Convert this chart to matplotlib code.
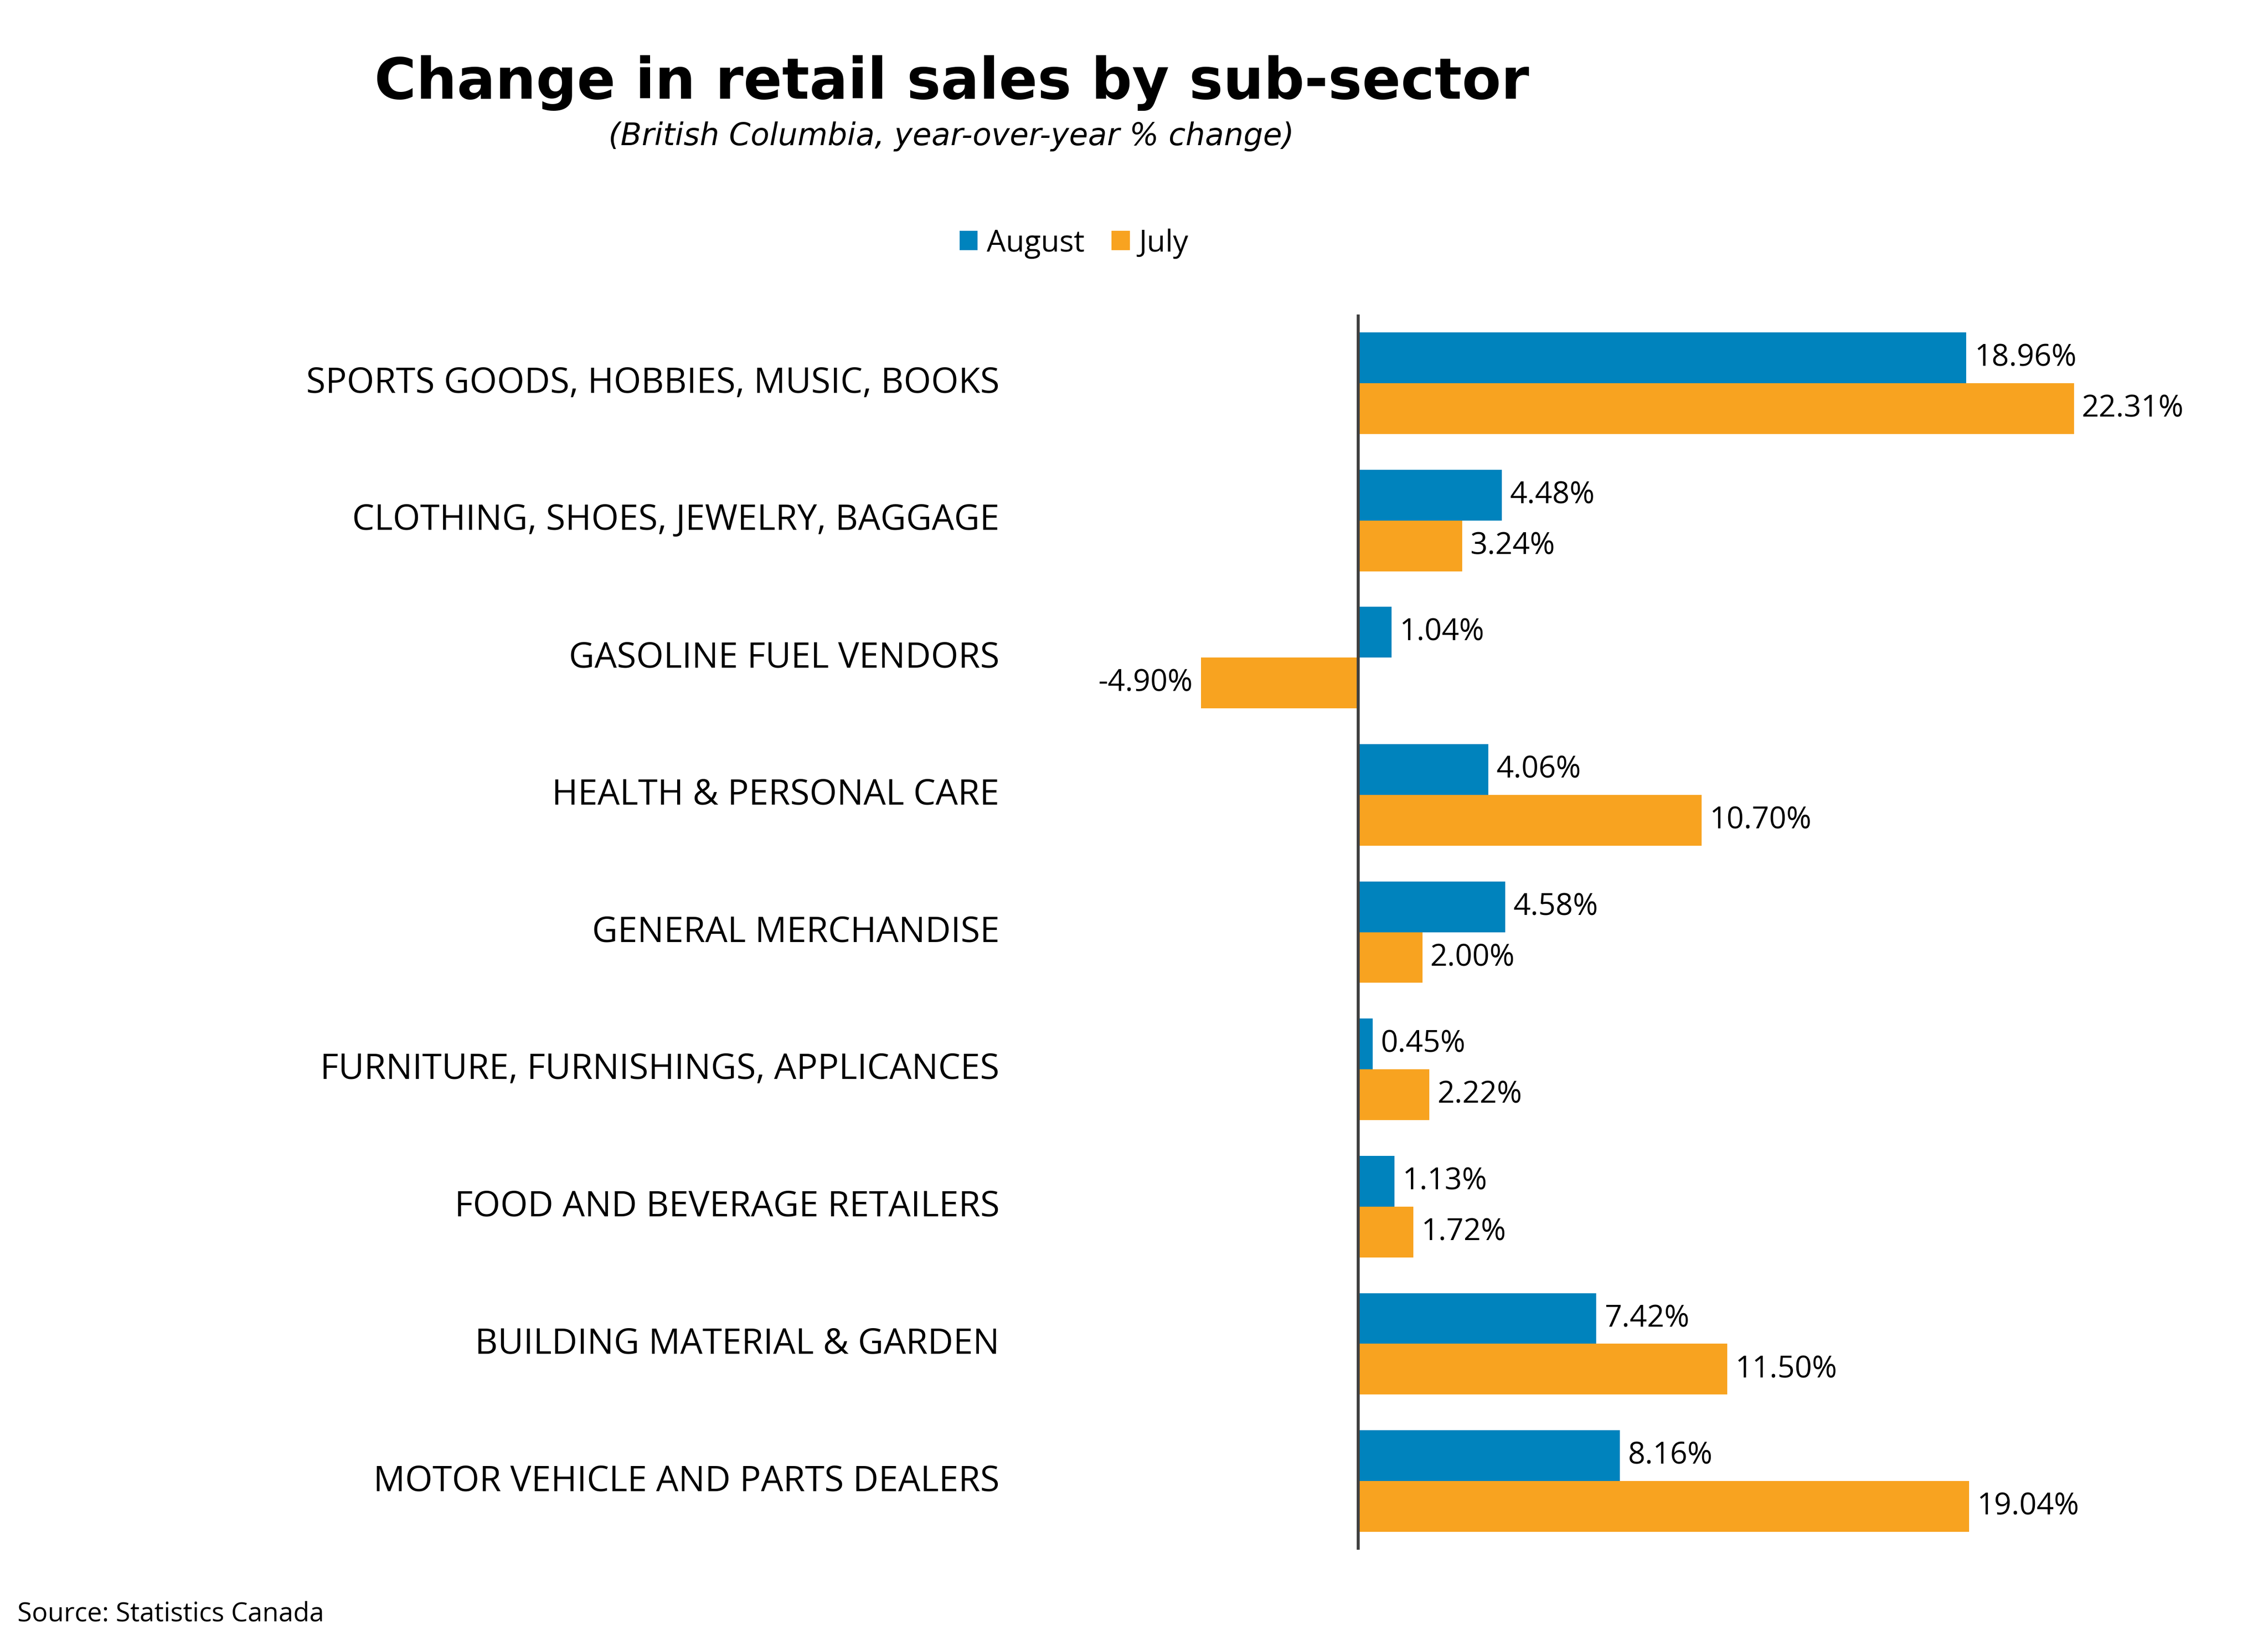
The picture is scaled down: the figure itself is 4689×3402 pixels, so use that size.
import matplotlib
matplotlib.use("Agg")
import matplotlib.pyplot as plt
import numpy as np

categories = ["SPORTS GOODS, HOBBIES, MUSIC, BOOKS",
              "CLOTHING, SHOES, JEWELRY, BAGGAGE",
              "GASOLINE FUEL VENDORS",
              "HEALTH & PERSONAL CARE",
              "GENERAL MERCHANDISE",
              "FURNITURE, FURNISHINGS, APPLICANCES",
              "FOOD AND BEVERAGE RETAILERS",
              "BUILDING MATERIAL & GARDEN",
              "MOTOR VEHICLE AND PARTS DEALERS"]
august = [18.96, 4.48, 1.04, 4.06, 4.58, 0.45, 1.13, 7.42, 8.16]
july = [22.31, 3.24, -4.90, 10.70, 2.00, 2.22, 1.72, 11.50, 19.04]

blue = '#0083BD'
orange = '#F8A320'

plt.rcParams['font.family'] = ['Open Sans', 'DejaVu Sans']

fig = plt.figure(figsize=(15.63, 11.343), dpi=300)
ax = fig.add_axes([0.4460, 0.0585, 0.5374, 0.7502])

y = np.arange(len(categories))
h = 0.37
ax.barh(y - h / 2, august, height=h, color=blue, label='August')
ax.barh(y + h / 2, july, height=h, color=orange, label='July')

ax.set_xlim(-10.81, 27.19)
ax.set_ylim(len(categories) - 0.5, -0.5)
ax.axvline(0, color='#404040', linewidth=1.5)

off = 0.25
for i in range(len(categories)):
    for v, yy in ((august[i], y[i] - h / 2), (july[i], y[i] + h / 2)):
        if v >= 0:
            ax.text(v + off, yy, f"{v:.2f}%", ha='left', va='center', fontsize=15)
        else:
            ax.text(v - off, yy, f"{v:.2f}%", ha='right', va='center', fontsize=15)

ax.set_yticks(y)
ax.set_yticklabels(categories, fontsize=17.5, va='center')
ax.tick_params(axis='y', length=0, pad=6)
ax.set_xticks([])
for s in ax.spines.values():
    s.set_visible(False)

fig.text(0.4197, 0.9495, "Change in retail sales by sub-sector", ha='center', va='center',
         fontsize=28.3, fontweight='bold', family='DejaVu Sans')
fig.text(0.4194, 0.917, "(British Columbia, year-over-year % change)", ha='center', va='center',
         fontsize=15.3, style='italic', family='DejaVu Sans')

fig.legend(loc='center', bbox_to_anchor=(0.4735, 0.852), ncol=2, frameon=False,
           fontsize=15, handlelength=0.6, handleheight=0.6, handletextpad=0.3,
           columnspacing=0.9)

fig.text(0.0077, 0.0197, "Source: Statistics Canada", ha='left', va='center', fontsize=13.1)

fig.savefig('out.png', dpi=300)
